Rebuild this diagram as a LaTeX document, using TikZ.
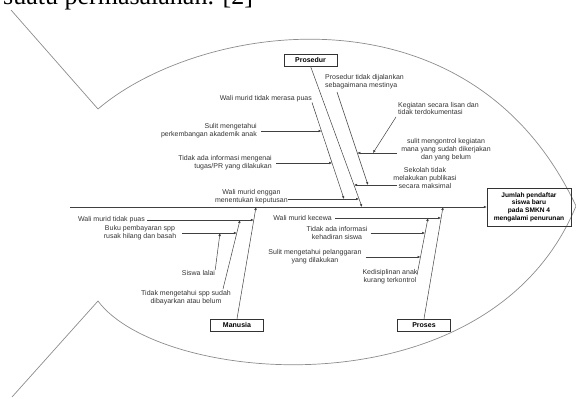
\documentclass[tikz,border=0pt]{standalone}
\usepackage{fontspec}
\setmainfont{Liberation Sans}
\newfontfamily\pageserif{Liberation Serif}
\usetikzlibrary{arrows.meta}

\begin{document}
\begin{tikzpicture}[x=1pt,y=-1pt]
\tikzset{txt/.style={font=\fontsize{7}{7.8}\selectfont,text=black!80,inner sep=0pt,align=center},
  catbox/.style={draw=black!80,font=\fontsize{7}{8}\selectfont\bfseries,minimum width=53pt,minimum height=12pt,inner sep=0pt},
  headbox/.style={draw=black!80,font=\fontsize{6.6}{7.6}\selectfont\bfseries,align=center,minimum width=84pt,minimum height=38pt,inner sep=0pt},
  bone/.style={draw=black!75,line width=0.5pt,-{Latex[length=3pt,width=2.6pt]}},
  fish/.style={draw=black!45,line width=0.7pt}}
\useasboundingbox (0,0) rectangle (576,399);
\node[anchor=base west,inner sep=0pt,font=\pageserif\fontsize{26}{30}\selectfont] (page) at (3,4) {suatu permasalahan. [2]};
\draw[fish] (11,10) -- (98,109) .. controls (200,22) and (470,-20) .. (576,206)
  .. controls (490,415) and (160,385) .. (98,301) -- (12,397);
\node[headbox] (head) at (529,207) {Jumlah pendaftar\\siswa baru\\pada SMKN 4\\mengalami penurunan};
\node[catbox] (pros) at (310.5,60) {Prosedur};
\node[catbox] (manu) at (237,325) {Manusia};
\node[catbox] (proc) at (424,325) {Proses};
\coordinate (tail) at (70,207);
\coordinate (sP) at (362,207);
\coordinate (sM) at (256,207);
\coordinate (sQ) at (443,207);
\draw[bone] (tail) -- (head.west);
\draw[bone] (pros.south) -- (sP);
\draw[bone] (manu.north) -- (sM);
\draw[bone] (proc.north) -- (sQ);

\node[txt,anchor=east] (tA) at (312,99) {Wali murid tidak merasa puas};
\node[txt,align=right,anchor=east] (tB) at (257,131) {Sulit mengetahui\\perkembangan akademik anak};
\node[txt,align=right,anchor=east] (tC) at (272,163) {Tidak ada informasi mengenai\\tugas/PR yang dilakukan};
\node[txt,anchor=east] (tE) at (288,197) {Wali murid enggan\\menentukan keputusan};
\coordinate (jA) at (344,199);
\coordinate (jB) at (321.5,131);
\coordinate (jC) at (332.1,163);
\coordinate (jE) at (359,199);
\draw[bone] (tA.south east) -- (jA);
\draw[bone] ([xshift=4pt]tB.east) -- (jB);
\draw[bone] ([xshift=4pt]tC.east) -- (jC);
\draw[bone] (tE.east |- jE) -- (jE);

\node[txt,align=left,anchor=west] (tF) at (325,81.5) {Prosedur tidak dijalankan\\sebagaimana mestinya};
\node[txt,align=left,anchor=west] (tK) at (398,108.5) {Kegiatan secara lisan dan\\tidak terdokumentasi};
\node[txt] (tG) at (446,149.5) {sulit mengontrol kegiatan\\mana yang sudah dikerjakan\\dan yang belum};
\node[txt] (tH) at (425,178) {Sekolah tidak\\melakukan publikasi\\secara maksimal};
\coordinate (fS) at (337,92);
\coordinate (kS) at (396,117);
\coordinate (gS) at (397,153);
\coordinate (hS) at (397,185);
\coordinate (jF) at (368,185);
\coordinate (jG) at (357.3,153);
\coordinate (jK) at (373,153);
\coordinate (jH) at (354,185);
\draw[bone] (fS) -- (jF);
\draw[bone] (kS) -- (jK);
\draw[bone] (gS) -- (jG);
\draw[bone] (hS) -- (jH);

\node[txt,anchor=east] (tM1) at (145,220) {Wali murid tidak puas};
\node[txt] (tM2) at (186,297.5) {Tidak mengetahui spp sudah\\dibayarkan atau belum};
\node[txt] (tM3) at (140,233) {Buku pembayaran spp\\rusak hilang dan basah};
\node[txt] (tM4) at (198.5,272.5) {Siswa lalai};
\coordinate (mS) at (223,289);
\coordinate (jM1) at (253.8,220);
\coordinate (jM2) at (240,220);
\coordinate (jM3) at (236.9,233);
\coordinate (jM4) at (220,233);
\draw[bone] ([xshift=2pt]tM1.east) -- (jM1);
\draw[bone] (mS) -- (jM2);
\draw[bone] ([xshift=6pt]tM3.east) -- (jM3);
\draw[bone] (tM4.north east) -- (jM4);

\node[txt,anchor=east] (tQ1) at (332,218) {Wali murid kecewa};
\node[txt] (tQ2) at (390,277) {Kedisiplinan anak\\kurang terkontrol};
\node[txt] (tQ3) at (337,233) {Tidak ada informasi\\kehadiran siswa};
\node[txt] (tQ4) at (315,257) {Sulit mengetahui pelanggaran\\yang dilakukan};
\coordinate (qS) at (417,275);
\coordinate (jQ1) at (441.1,218);
\coordinate (jQ2) at (428,218);
\coordinate (jQ3) at (425.1,233);
\coordinate (jQ4) at (420.5,257);
\draw[bone] ([xshift=3pt]tQ1.east) -- (jQ1);
\draw[bone] (qS) -- (jQ2);
\draw[bone] ([xshift=3pt]tQ3.east) -- (jQ3);
\draw[bone] ([xshift=4pt]tQ4.east) -- (jQ4);
\end{tikzpicture}
\end{document}
